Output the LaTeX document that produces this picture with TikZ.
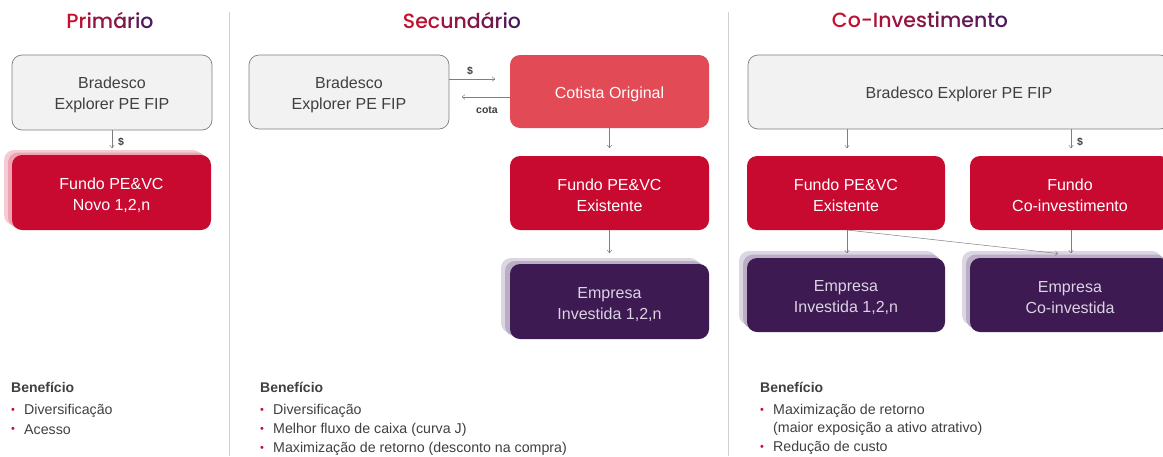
\documentclass[tikz,border=0pt]{standalone}
\usepackage{fontspec}
\setmainfont{Liberation Sans}
\newfontfamily\titlefont{Poppins Medium}
\usetikzlibrary{arrows.meta}
\definecolor{tred}{HTML}{C8102E}
\definecolor{tpur}{HTML}{4A1A5C}
\definecolor{boxgray}{HTML}{F2F2F2}
\definecolor{edgegray}{HTML}{7F7F7F}
\definecolor{txtgray}{HTML}{404040}
\definecolor{fundred}{HTML}{C90A30}
\definecolor{cotred}{HTML}{E24A55}
\definecolor{emppur}{HTML}{3D1A52}
\definecolor{pinkA}{HTML}{F6CCD4}
\definecolor{pinkB}{HTML}{EEA3B1}
\definecolor{purA}{HTML}{DCD6E2}
\definecolor{purB}{HTML}{B9AEC4}
\definecolor{emptxt}{HTML}{DCD3E3}
\newcommand{\dn}{\rule{0pt}{16.8pt}}
\tikzset{
  x=1pt,y=-1pt,
  box/.style={rounded corners=10pt, align=center, inner sep=0pt, font=\fontsize{16}{21}\selectfont},
  graybox/.style={box, fill=boxgray, draw=edgegray, line width=0.7pt, text=txtgray},
  fundbox/.style={box, fill=fundred, text=white},
  cotbox/.style={box, fill=cotred, text=white},
  empbox/.style={box, fill=emppur, text=emptxt},
  arr/.style={draw=edgegray, line width=0.5pt, -{To[length=3pt,width=5pt]}},
  lbl/.style={font=\fontsize{10.5}{12}\selectfont\bfseries, text=txtgray, inner sep=1pt},
  ttl/.style={font=\titlefont\fontsize{20.5}{22}\selectfont, inner sep=0pt},
  benh/.style={font=\fontsize{14}{16}\selectfont\bfseries, text=txtgray, anchor=west, inner sep=0pt},
  beni/.style={font=\fontsize{14.2}{16}\selectfont, text=txtgray, anchor=west, inner sep=0pt},
  bul/.style={font=\fontsize{11}{13}\selectfont, text=tred, anchor=west, inner sep=0pt},
  divider/.style={draw=black!18, line width=0.8pt}
}
\begin{document}
\begin{tikzpicture}
\useasboundingbox (0,0) rectangle (1163,456);
\fill[white] (0,0) rectangle (1163,456);
% dividers
\draw[divider] (229,12) -- (229,456);
\draw[divider] (728,12) -- (728,456);
% titles
\node[ttl] (t1) at (110,20) {\textcolor{tred}{P}\textcolor{tred!86!tpur}{r}\textcolor{tred!72!tpur}{i}\textcolor{tred!60!tpur}{m}\textcolor{tred!45!tpur}{á}\textcolor{tred!30!tpur}{r}\textcolor{tred!15!tpur}{i}\textcolor{tpur}{o}};
\node[ttl] (t2) at (462,20) {\textcolor{tred}{S}\textcolor{tred!90!tpur}{e}\textcolor{tred!80!tpur}{c}\textcolor{tred!68!tpur}{u}\textcolor{tred!56!tpur}{n}\textcolor{tred!45!tpur}{d}\textcolor{tred!34!tpur}{á}\textcolor{tred!22!tpur}{r}\textcolor{tred!11!tpur}{i}\textcolor{tpur}{o}};
\node[ttl] (t3) at (920,20) {\textcolor{tred}{C}\textcolor{tred!93!tpur}{o}\textcolor{tred!86!tpur}{-}\textcolor{tred!79!tpur}{I}\textcolor{tred!72!tpur}{n}\textcolor{tred!65!tpur}{v}\textcolor{tred!58!tpur}{e}\textcolor{tred!50!tpur}{s}\textcolor{tred!43!tpur}{t}\textcolor{tred!36!tpur}{i}\textcolor{tred!29!tpur}{m}\textcolor{tred!21!tpur}{e}\textcolor{tred!14!tpur}{n}\textcolor{tred!7!tpur}{t}\textcolor{tpur}{o}};

% ---------- Primario ----------
\node[graybox, minimum width=200, minimum height=75] (pb) at (112,92.5) {\dn Bradesco\\Explorer PE FIP};
\fill[pinkA, rounded corners=10pt] (4,150) rectangle (203,225);
\fill[pinkB, rounded corners=10pt] (8,152.5) rectangle (207,227.5);
\node[fundbox, minimum width=199, minimum height=75] (pf) at (111.5,192.5) {\dn Fundo PE\&VC\\Novo 1,2,n};
\coordinate (pa) at (112,148);
\draw[arr] (pb.south) -- (pa);
\node[lbl, anchor=west] (pl) at (117,142) {\$};

% ---------- Secundario ----------
\node[graybox, minimum width=200, minimum height=74] (sb) at (349,92) {\dn Bradesco\\Explorer PE FIP};
\node[cotbox, minimum width=199, minimum height=73] (sc) at (609.5,91.5) {\dn Cotista Original};
\node[fundbox, minimum width=199, minimum height=74] (sf) at (609.5,193) {\dn Fundo PE\&VC\\Existente};
\fill[purA, rounded corners=10pt] (501,258) rectangle (700,333);
\fill[purB, rounded corners=10pt] (505,261) rectangle (704,336);
\node[empbox, minimum width=199, minimum height=75] (se) at (609.5,301.5) {\dn Empresa\\Investida 1,2,n};
\coordinate (s1) at (495,79);
\coordinate (s2) at (462,97);
\draw[arr] (sb.east |- s1) -- (s1);
\draw[arr] (sc.west |- s2) -- (s2);
\node[lbl] (sd) at (470,71) {\$};
\node[lbl] (sk) at (487,110) {cota};
\coordinate (s3) at (609.5,148);
\coordinate (s4) at (609.5,253);
\draw[arr] (sc.south) -- (s3);
\draw[arr] (sf.south) -- (s4);

% ---------- Co-Investimento ----------
\node[graybox, minimum width=422, minimum height=74] (cb) at (959,92) {\dn Bradesco Explorer PE FIP};
\node[fundbox, minimum width=198, minimum height=74] (cf) at (846,193) {\dn Fundo PE\&VC\\Existente};
\node[fundbox, minimum width=200, minimum height=74] (cc) at (1070,193) {\dn Fundo\\Co-investimento};
\fill[purA, rounded corners=10pt] (739,251) rectangle (937,325);
\fill[purB, rounded corners=10pt] (743,254.5) rectangle (941,328.5);
\node[empbox, minimum width=198, minimum height=74] (ce) at (846,295) {\dn Empresa\\Investida 1,2,n};
\fill[purA, rounded corners=10pt] (962,251) rectangle (1162,325);
\fill[purB, rounded corners=10pt] (966,254.5) rectangle (1166,328.5);
\node[empbox, minimum width=200, minimum height=74] (cx) at (1070,295) {\dn Empresa\\Co-investida};
\coordinate (c1) at (847,148);
\coordinate (c2) at (1071,148);
\coordinate (c3) at (847,253);
\coordinate (c4) at (1071,253);
\coordinate (c5) at (1058,253.5);
\coordinate (c6) at (847,230);
\draw[arr] (c1 |- cb.south) -- (c1);
\draw[arr] (c2 |- cb.south) -- (c2);
\node[lbl, anchor=west] (cl) at (1076,142) {\$};
\draw[arr] (c3 |- cf.south) -- (c3);
\draw[arr] (c4 |- cc.south) -- (c4);
\draw[arr] (c6) -- (c5);

% ---------- Beneficios ----------
\node[benh] (b1) at (11,387) {Benefício};
\node[bul] (b1a) at (11,411) {•};
\node[beni] (b1at) at (24,411) {Diversificação};
\node[bul] (b1b) at (11,430) {•};
\node[beni] (b1bt) at (24,430) {Acesso};

\node[benh] (b2) at (260,387) {Benefício};
\node[bul] (b2a) at (260,411) {•};
\node[beni] (b2at) at (273,411) {Diversificação};
\node[bul] (b2b) at (260,430) {•};
\node[beni] (b2bt) at (273,430) {Melhor fluxo de caixa (curva J)};
\node[bul] (b2c) at (260,449) {•};
\node[beni] (b2ct) at (273,449) {Maximização de retorno (desconto na compra)};

\node[benh] (b3) at (760,387) {Benefício};
\node[bul] (b3a) at (760,411) {•};
\node[beni] (b3at) at (773,411) {Maximização de retorno};
\node[beni] (b3at2) at (773,429) {(maior exposição a ativo atrativo)};
\node[bul] (b3b) at (760,448) {•};
\node[beni] (b3bt) at (773,448) {Redução de custo};
\end{tikzpicture}
\end{document}
